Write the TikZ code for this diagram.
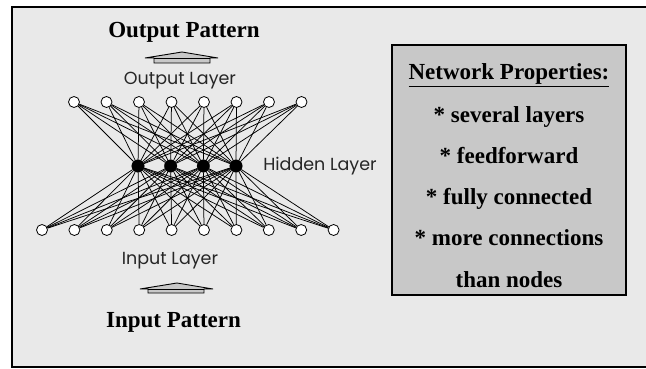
\documentclass[tikz,border=0pt]{standalone}
\usepackage{fontspec}
\setmainfont{Liberation Serif}
\newfontfamily\geo{Poppins}
\definecolor{bgc}{HTML}{E9E9E9}
\definecolor{boxc}{HTML}{C8C8C8}
\begin{document}
\begin{tikzpicture}[x=1pt,y=-1pt,
  onode/.style={circle,draw,fill=white,inner sep=0pt,minimum size=11pt,line width=0.8pt},
  hnode/.style={circle,draw,fill=black,inner sep=0pt,minimum size=12.5pt},
  conn/.style={line width=0.75pt},
  big/.style={font=\fontsize{23}{26}\selectfont\bfseries,inner sep=0pt,text height=15pt,text depth=5pt},
  lay/.style={font=\geo\fontsize{17.5}{20}\selectfont,text=black!85,inner sep=0pt},
  patarrow/.style={fill=boxc,draw=black,line width=0.9pt,line join=miter}]
\useasboundingbox (0,0) rectangle (646,369);
\fill[white] (0,0) rectangle (646,369);
\draw[fill=bgc,line width=1.6pt] (12,7) rectangle (660,367);
% right box
\draw[fill=boxc,line width=1.6pt] (392,45) rectangle (626,295);
\node[big] (t0) at (509,75) {\underline{Network Properties:}};
\node[big] (t1) at (509,117) {* several layers};
\node[big] (t2) at (509,158) {* feedforward};
\node[big] (t3) at (509,199) {* fully connected};
\node[big] (t4) at (509,240) {* more connections};
\node[big] (t5) at (509,282) {than nodes};
% nodes
\foreach \i in {0,...,7} \node[onode] (o\i) at ({74+32.5*\i},102) {};
\foreach \i in {0,...,3} \node[hnode] (h\i) at ({138+32.67*\i},166) {};
\foreach \i in {0,...,9} \node[onode] (i\i) at ({42+32.4*\i},230) {};
\foreach \i in {0,...,7} \foreach \j in {0,...,3} \draw[conn] (o\i) -- (h\j);
\foreach \i in {0,...,9} \foreach \j in {0,...,3} \draw[conn] (i\i) -- (h\j);
% labels
\node[lay] (ol) at (180,81) {Output Layer};
\node[lay] (il) at (170,261) {Input Layer};
\node[lay] (hl) at (320,166) {Hidden Layer};
\node[big] (op) at (184,33) {Output Pattern};
\node[big] (ip) at (173.5,322) {Input Pattern};
% arrows
\draw[patarrow] (145,58) -- (182,52) -- (218,58) -- (210,58) -- (210,63) -- (154,63) -- (154,58) -- cycle;
\draw[line width=0.9pt] (154,58) -- (210,58);
\draw[patarrow] (140,289) -- (177,283) -- (213,289) -- (204,289) -- (204,293) -- (148,293) -- (148,289) -- cycle;
\draw[line width=0.9pt] (148,289) -- (204,289);
\end{tikzpicture}
\end{document}
